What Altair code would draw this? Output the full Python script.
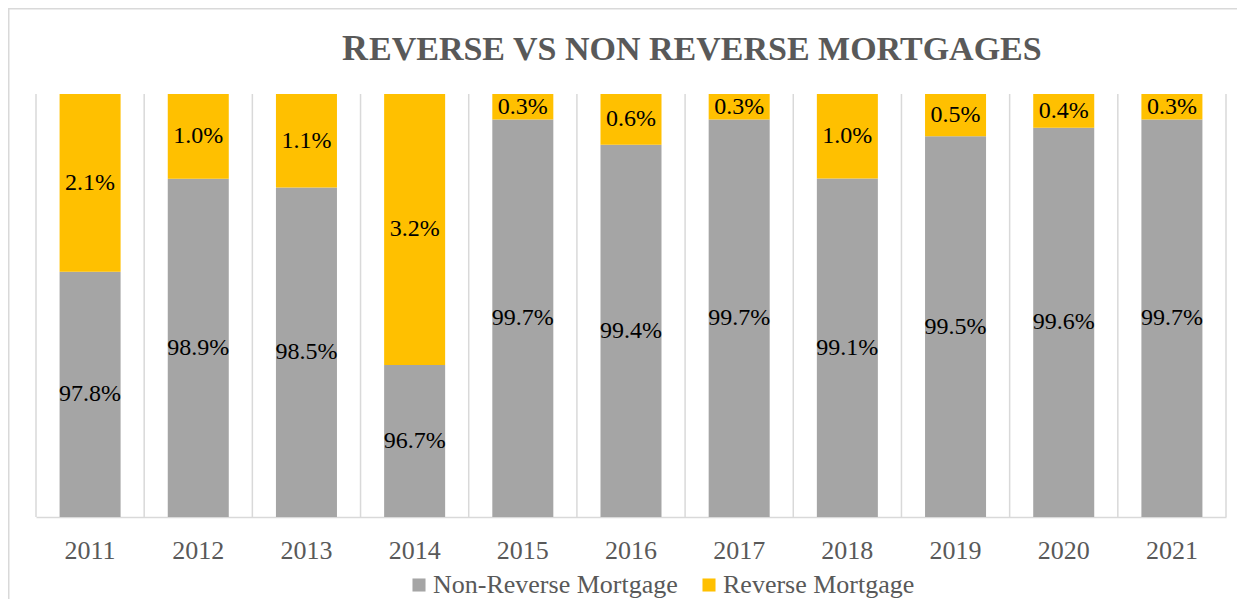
import altair as alt
import pandas as pd

years = ["2011", "2012", "2013", "2014", "2015", "2016", "2017", "2018", "2019", "2020", "2021"]
non_reverse = [97.8, 98.9, 98.5, 96.7, 99.7, 99.4, 99.7, 99.1, 99.5, 99.6, 99.7]
reverse = [2.1, 1.0, 1.1, 3.2, 0.3, 0.6, 0.3, 1.0, 0.5, 0.4, 0.3]
series = ["Non-Reverse Mortgage", "Reverse Mortgage"]
colors = ["#A5A5A5", "#FFC000"]
title_first = "R"
title_rest = "EVERSE VS NON REVERSE MORTGAGES"

rows = []
for i, yr in enumerate(years):
    rows.append({"year": yr, "series": series[0], "value": non_reverse[i], "order": 0})
    rows.append({"year": yr, "series": series[1], "value": reverse[i], "order": 1})
df = pd.DataFrame(rows)
year_df = pd.DataFrame({"year": years})
last_df = pd.DataFrame({"year": years[-1:]})

FONT = "Liberation Serif"
GREY_TXT = "#595959"
LINE = "#d9d9d9"

W, H = 1190, 423
PAD_IN = 0.436
STEP = W / len(years)
HALF_GAP = STEP * PAD_IN / 2

yscale = alt.Scale(domain=[0.95, 1.0], clamp=True, nice=False, zero=False)
xscale = alt.Scale(paddingInner=PAD_IN, paddingOuter=PAD_IN / 2)

base = alt.Chart(df).transform_stack(
    stack="value",
    groupby=["year"],
    as_=["v0", "v1"],
    offset="normalize",
    sort=[alt.SortField("order", order="ascending")],
).transform_calculate(
    lo="max(datum.v0, 0.95)",
    mid="(max(datum.v0, 0.95) + datum.v1) / 2",
    label="format(datum.value, '.1f') + '%'",
)

xaxis = alt.Axis(
    title=None, labelAngle=0, labelFont=FONT, labelFontSize=26, labelColor=GREY_TXT,
    labelPadding=20, ticks=False, domainColor=LINE, domainWidth=1.5, grid=False,
)

# vertical separators between categories
sep = alt.Chart(year_df).mark_rule(color=LINE, strokeWidth=1.5, xOffset=-HALF_GAP).encode(
    x=alt.X("year:N", bandPosition=0, scale=xscale, axis=xaxis),
    y=alt.value(0),
    y2=alt.value(H),
)
sep_end = alt.Chart(last_df).mark_rule(color=LINE, strokeWidth=1.5, xOffset=HALF_GAP).encode(
    x=alt.X("year:N", bandPosition=1, scale=xscale, axis=xaxis),
    y=alt.value(0),
    y2=alt.value(H),
)

bars = base.mark_bar().encode(
    x=alt.X("year:N", axis=xaxis, scale=xscale),
    y=alt.Y("lo:Q", scale=yscale, axis=None),
    y2="v1:Q",
    color=alt.Color(
        "series:N",
        scale=alt.Scale(domain=series, range=colors),
        legend=alt.Legend(
            title=None, orient="none", legendX=370, legendY=478, direction="horizontal",
            labelFont=FONT, labelFontSize=26, labelColor=GREY_TXT, labelLimit=0,
            symbolType="square", symbolSize=170, symbolStrokeWidth=0, symbolOpacity=1,
            labelOffset=1, columnPadding=18, padding=0,
        ),
    ),
)

labels = base.mark_text(font=FONT, fontSize=24, color="#000000", baseline="middle").encode(
    x=alt.X("year:N", axis=xaxis, scale=xscale),
    y=alt.Y("mid:Q", scale=yscale, axis=None),
    text="label:N",
)

frame = alt.Chart(pd.DataFrame({"a": [0]})).mark_rect(
    fillOpacity=0, stroke=LINE, strokeWidth=1.5
).encode(
    x=alt.value(-27.25), x2=alt.value(1400), y=alt.value(-85.25), y2=alt.value(800)
)

t1 = alt.Chart(pd.DataFrame({"t": [title_first]})).mark_text(
    align="left", baseline="alphabetic", font=FONT, fontWeight="bold", fontSize=36, color=GREY_TXT
).encode(x=alt.value(306), y=alt.value(-34), text="t:N")

t2 = alt.Chart(pd.DataFrame({"t": [title_rest]})).mark_text(
    align="left", baseline="alphabetic", font=FONT, fontWeight="bold", fontSize=34, color=GREY_TXT
).encode(x=alt.value(333), y=alt.value(-34), text="t:N")

chart = alt.layer(frame, sep, sep_end, bars, labels, t1, t2).properties(
    width=W,
    height=H,
    padding={"left": 28, "top": 86, "right": 11, "bottom": 82},
    autosize=alt.AutoSizeParams(type="none"),
).configure_view(strokeWidth=0)

chart.save("out.html", embed_options={"renderer": "svg", "actions": False})
